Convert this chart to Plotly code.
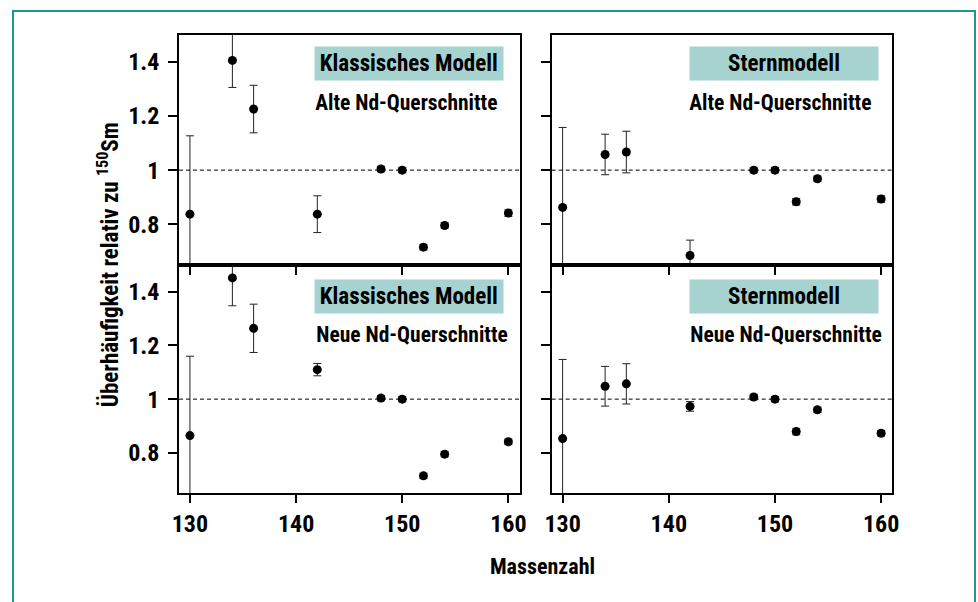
import plotly.graph_objects as go

# ---------------- data ----------------
mass = [130, 134, 136, 142, 148, 150, 152, 154, 160]

klass_alt = [0.837, 1.406, 1.226, 0.837, 1.004, 1.000, 0.715, 0.795, 0.841]
klass_alt_err = [0.290, 0.100, 0.088, 0.068, 0.010, 0.010, 0.010, 0.010, 0.012]

stern_alt = [0.862, 1.058, 1.067, 0.684, 1.000, 1.000, 0.883, 0.968, 0.893]
stern_alt_err = [0.296, 0.075, 0.077, 0.057, 0.010, 0.010, 0.012, 0.010, 0.012]

klass_neu = [0.864, 1.452, 1.264, 1.110, 1.004, 1.000, 0.714, 0.795, 0.841]
klass_neu_err = [0.296, 0.104, 0.090, 0.023, 0.010, 0.010, 0.010, 0.010, 0.010]

stern_neu = [0.853, 1.048, 1.057, 0.973, 1.008, 1.000, 0.879, 0.960, 0.873]
stern_neu_err = [0.295, 0.074, 0.075, 0.018, 0.010, 0.010, 0.012, 0.010, 0.010]

y_ticks = [0.8, 1.0, 1.2, 1.4]
y_ticklabels = ["0.8", "1", "1.2", "1.4"]
x_ticks = [130, 140, 150, 160]
reference_level = 1.0

model_labels = ["Klassisches Modell", "Sternmodell", "Klassisches Modell", "Sternmodell"]
cs_labels = ["Alte Nd-Querschnitte", "Alte Nd-Querschnitte", "Neue Nd-Querschnitte", "Neue Nd-Querschnitte"]

# ---------------- layout helpers ----------------
W, H = 978, 602
FONT = "Roboto"
TEAL = "#1a9a8c"
BOX = "#a6d2cf"

def px(x):
    return x / W

def py(y):
    return 1 - y / H

left_dom = [px(179), px(519.5)]
right_dom = [px(551.7), px(892.3)]
top_dom = [py(265), py(35)]
bot_dom = [py(493.3), py(265)]

fig = go.Figure()

panels = [
    (klass_alt, klass_alt_err, "x", "y", left_dom, top_dom, True, False),
    (stern_alt, stern_alt_err, "x2", "y2", right_dom, top_dom, False, False),
    (klass_neu, klass_neu_err, "x3", "y3", left_dom, bot_dom, True, True),
    (stern_neu, stern_neu_err, "x4", "y4", right_dom, bot_dom, False, True),
]

for i, (vals, errs, xa, ya, xd, yd, ylab, xlab) in enumerate(panels):
    fig.add_trace(go.Scatter(
        x=mass, y=vals, xaxis=xa, yaxis=ya, mode="markers",
        marker=dict(color="black", size=9),
        error_y=dict(type="data", array=errs, visible=True, color="#222222",
                     thickness=1, width=4),
        showlegend=False, cliponaxis=True,
    ))
    n = "" if i == 0 else str(i + 1)
    fig.layout["xaxis" + n] = dict(
        domain=xd, range=[128.97, 161.05], anchor=ya,
        tickvals=x_ticks, showticklabels=xlab, ticks="outside", ticklen=8,
        tickwidth=1.5, tickcolor="black",
        showline=True, linecolor="black", linewidth=1.6, mirror=True,
        showgrid=False, zeroline=False, automargin=False,
        tickfont=dict(family=FONT, size=24, color="black", weight="bold"),
    )
    fig.layout["yaxis" + n] = dict(
        domain=yd, range=[0.649, 1.5], anchor=xa,
        tickvals=y_ticks, ticktext=y_ticklabels, showticklabels=ylab,
        ticks="outside", ticklen=9, tickwidth=1.5, tickcolor="black",
        ticklabelstandoff=4,
        showline=True, linecolor="black", linewidth=1.6, mirror=True,
        showgrid=False, zeroline=False, automargin=False,
        tickfont=dict(family=FONT, size=24, color="black", weight="bold"),
    )
    fig.add_shape(type="line", xref=xa + " domain", yref=ya,
                  x0=0, x1=1, y0=reference_level, y1=reference_level,
                  line=dict(color="black", width=1, dash="4px,3px"))

# (box left, box right, box top, box bottom, subtitle centre x, subtitle centre y)
box_pos = [
    (315, 502.7, 47, 80, 406, 102),
    (690, 878, 47, 80, 780, 102),
    (315, 502.7, 280, 312.7, 411.5, 334),
    (690, 878, 280, 312.7, 786, 334),
]
for (x0, x1, y0, y1, xsub, ysub), ml, cl in zip(box_pos, model_labels, cs_labels):
    fig.add_annotation(
        xref="paper", yref="paper", x=px((x0 + x1) / 2), y=py((y0 + y1) / 2),
        text=ml, showarrow=False, bgcolor=BOX,
        width=x1 - x0, height=y1 - y0, borderpad=0,
        xanchor="center", yanchor="middle",
        font=dict(family=FONT, size=23, color="black", weight="bold"),
    )
    fig.add_annotation(
        xref="paper", yref="paper", x=px(xsub), y=py(ysub),
        text=cl, showarrow=False,
        xanchor="center", yanchor="middle",
        font=dict(family=FONT, size=21.5, color="black", weight="bold"),
    )

fig.add_annotation(
    xref="paper", yref="paper", x=px(108), y=py(265),
    text="Überhäufigkeit relativ zu <sup>150</sup>Sm", showarrow=False,
    textangle=-90, xanchor="center", yanchor="middle",
    font=dict(family=FONT, size=23, color="black", weight="bold"),
)
fig.add_annotation(
    xref="paper", yref="paper", x=px(542), y=py(566),
    text="Massenzahl", showarrow=False,
    xanchor="center", yanchor="middle",
    font=dict(family=FONT, size=22, color="black", weight="bold"),
)

fig.add_shape(type="rect", xref="paper", yref="paper",
              x0=px(13), x1=px(975), y0=-0.1, y1=py(11),
              line=dict(color=TEAL, width=2), fillcolor="rgba(0,0,0,0)",
              layer="below")

fig.update_layout(
    width=W, height=H, margin=dict(l=0, r=0, t=0, b=0, autoexpand=False),
    paper_bgcolor="white", plot_bgcolor="white",
    font=dict(family=FONT, color="black"),
)

post = """
document.body.style.margin='0';
document.body.style.overflow='hidden';
var st=document.createElement('style');
st.textContent='.main-svg text{font-stretch:75% !important;}';
document.head.appendChild(st);
"""

fig.write_html("out.html", post_script=post, config={"displayModeBar": False})
